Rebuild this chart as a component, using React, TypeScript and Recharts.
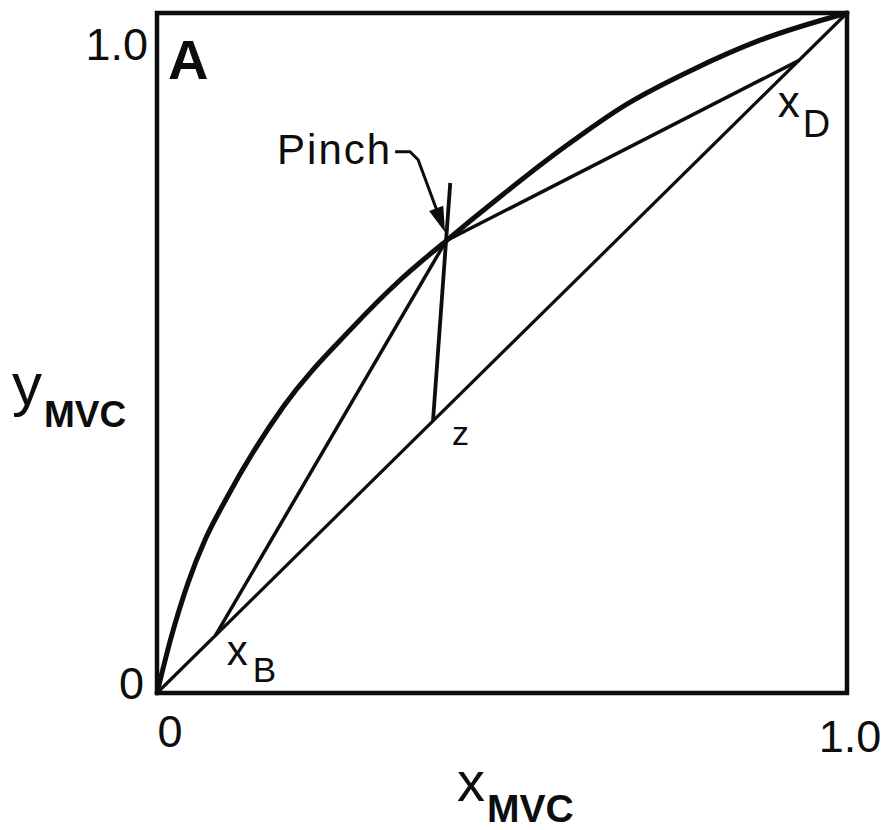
import React from "react";
import { ComposedChart, XAxis, YAxis, Line, ReferenceArea, ReferenceDot } from "recharts";

// Vapour–liquid equilibrium curve for the most volatile component (MVC)
const equilibriumCurve = [
  { x: 0, y: 0 },
  { x: 0.02, y: 0.08 },
  { x: 0.045, y: 0.162 },
  { x: 0.07, y: 0.226 },
  { x: 0.1, y: 0.285 },
  { x: 0.183, y: 0.421 },
  { x: 0.28, y: 0.534 },
  { x: 0.352, y: 0.607 },
  { x: 0.419, y: 0.665 },
  { x: 0.5, y: 0.732 },
  { x: 0.584, y: 0.798 },
  { x: 0.681, y: 0.866 },
  { x: 0.777, y: 0.917 },
  { x: 0.874, y: 0.96 },
  { x: 1, y: 1 },
];

// Compositions
const xB = 0.085;
const xD = 0.93;
const zFeed = 0.4;
const pinch = { x: 0.419, y: 0.665 };
const qLineTop = { x: 0.425, y: 0.75 };

const diagonal = [
  { x: 0, y: 0 },
  { x: 1, y: 1 },
];
const strippingLine = [{ x: xB, y: xB }, pinch];
const rectifyingLine = [pinch, { x: xD, y: xD }];
const qLine = [{ x: zFeed, y: zFeed }, qLineTop];

const axisTicks = [0, 1];
const tickText: Record<number, string> = { 0: "0", 1: "1.0" };

const FONT = "'Liberation Sans', Arial, Helvetica, sans-serif";
const INK = "#0d0d0d";

const XTick = (props: any) => {
  const { x, y, payload } = props;
  const v = payload.value;
  const dx = v === 0 ? 13 : 3;
  const dy = v === 0 ? 54 : 59;
  return (
    <text x={x + dx} y={y + dy} textAnchor="middle" fontSize={45} fontFamily={FONT} fill={INK}>
      {tickText[v]}
    </text>
  );
};

const YTick = (props: any) => {
  const { x, y, payload } = props;
  const v = payload.value;
  const dx = v === 0 ? -13 : -9;
  const dy = v === 0 ? 6 : 47;
  return (
    <text x={x + dx} y={y + dy} textAnchor="end" fontSize={45} fontFamily={FONT} fill={INK}>
      {tickText[v]}
    </text>
  );
};

const XTitle = (props: any) => {
  const vb = props.viewBox || { x: 157, y: 693, width: 690, height: 137 };
  return (
    <text x={vb.x + 300} y={vb.y + 108} fontFamily={FONT} fill={INK}>
      <tspan fontSize={56}>x</tspan>
      <tspan fontSize={39} fontWeight="bold" dx={2} dy={21}>MVC</tspan>
    </text>
  );
};

const YTitle = (props: any) => {
  const vb = props.viewBox || { x: 0, y: 13, width: 157, height: 680 };
  return (
    <text x={vb.x + 12} y={vb.y + 392} fontFamily={FONT} fill={INK}>
      <tspan fontSize={60}>y</tspan>
      <tspan fontSize={37} fontWeight="bold" dx={2} dy={22}>MVC</tspan>
    </text>
  );
};

// Text placed at an offset from a point given in data coordinates
const textAt =
  (content: React.ReactNode, dx: number, dy: number, size: number, weight: string = "normal") =>
  (p: any) => (
    <text x={p.cx + dx} y={p.cy + dy} fontSize={size} fontWeight={weight} fontFamily={FONT} fill={INK}>
      {content}
    </text>
  );

// "Pinch" caption with its hooked leader and arrowhead pointing at the pinch point
const PinchNote = (p: any) => {
  const { cx, cy } = p;
  const tip = { x: cx - 2, y: cy - 11 };
  const bend = { x: cx - 28, y: cy - 81 };
  const len = Math.hypot(tip.x - bend.x, tip.y - bend.y);
  const ux = (tip.x - bend.x) / len;
  const uy = (tip.y - bend.y) / len;
  const bx = tip.x - 22 * ux;
  const by = tip.y - 22 * uy;
  const px = -uy * 6.5;
  const py = ux * 6.5;
  return (
    <g>
      <text x={cx - 169} y={cy - 77} fontSize={42} letterSpacing={2} fontFamily={FONT} fill={INK}>
        Pinch
      </text>
      <path
        d={`M${cx - 51},${cy - 89} L${cx - 36},${cy - 89} L${bend.x},${bend.y} L${bx},${by}`}
        fill="none"
        stroke={INK}
        strokeWidth={3}
        strokeLinejoin="round"
      />
      <path
        d={`M${tip.x},${tip.y} L${bx + px},${by + py} L${bx - px},${by - py} Z`}
        fill={INK}
        stroke={INK}
        strokeWidth={1.5}
      />
    </g>
  );
};

export default function App() {
  return (
    <div style={{ position: "absolute", left: 0, top: 0, background: "#fff" }}>
      <ComposedChart width={888} height={830} margin={{ top: 13, right: 41, bottom: 0, left: 0 }}>
        <XAxis
          type="number"
          dataKey="x"
          domain={[0, 1]}
          ticks={axisTicks}
          height={137}
          axisLine={false}
          tickLine={false}
          tickSize={0}
          tickMargin={0}
          tick={<XTick />}
          interval={0}
          label={{ content: <XTitle /> }}
        />
        <YAxis
          type="number"
          dataKey="y"
          domain={[0, 1]}
          ticks={axisTicks}
          width={157}
          axisLine={false}
          tickLine={false}
          tickSize={0}
          tickMargin={0}
          tick={<YTick />}
          interval={0}
          label={{ content: <YTitle /> }}
        />
        <ReferenceArea x1={0} x2={1} y1={0} y2={1} fill="none" fillOpacity={0} stroke={INK} strokeWidth={4.5} />
        <Line
          data={diagonal}
          dataKey="y"
          type="linear"
          stroke={INK}
          strokeWidth={3.2}
          dot={false}
          activeDot={false}
          isAnimationActive={false}
        />
        <Line
          data={strippingLine}
          dataKey="y"
          type="linear"
          stroke={INK}
          strokeWidth={3.5}
          dot={false}
          activeDot={false}
          isAnimationActive={false}
        />
        <Line
          data={rectifyingLine}
          dataKey="y"
          type="linear"
          stroke={INK}
          strokeWidth={3.5}
          dot={false}
          activeDot={false}
          isAnimationActive={false}
        />
        <Line
          data={qLine}
          dataKey="y"
          type="linear"
          stroke={INK}
          strokeWidth={3.8}
          dot={false}
          activeDot={false}
          isAnimationActive={false}
        />
        <Line
          data={equilibriumCurve}
          dataKey="y"
          type="monotone"
          stroke={INK}
          strokeWidth={5}
          strokeLinejoin="round"
          strokeLinecap="round"
          dot={false}
          activeDot={false}
          isAnimationActive={false}
        />
        <ReferenceDot x={0} y={1} r={0} shape={textAt("A", 11, 66, 56, "bold")} />
        <ReferenceDot x={pinch.x} y={pinch.y} r={0} shape={<PinchNote />} />
        <ReferenceDot x={zFeed} y={zFeed} r={0} shape={textAt("z", 19, 24, 34)} />
        <ReferenceDot
          x={xB}
          y={xB}
          r={0}
          shape={textAt(
            <>
              <tspan fontSize={42}>x</tspan>
              <tspan fontSize={35} dx={5} dy={17}>B</tspan>
            </>,
            11,
            30,
            42
          )}
        />
        <ReferenceDot
          x={xD}
          y={xD}
          r={0}
          shape={textAt(
            <>
              <tspan fontSize={44}>x</tspan>
              <tspan fontSize={38} dx={3} dy={20}>D</tspan>
            </>,
            -21,
            56,
            44
          )}
        />
      </ComposedChart>
    </div>
  );
}
